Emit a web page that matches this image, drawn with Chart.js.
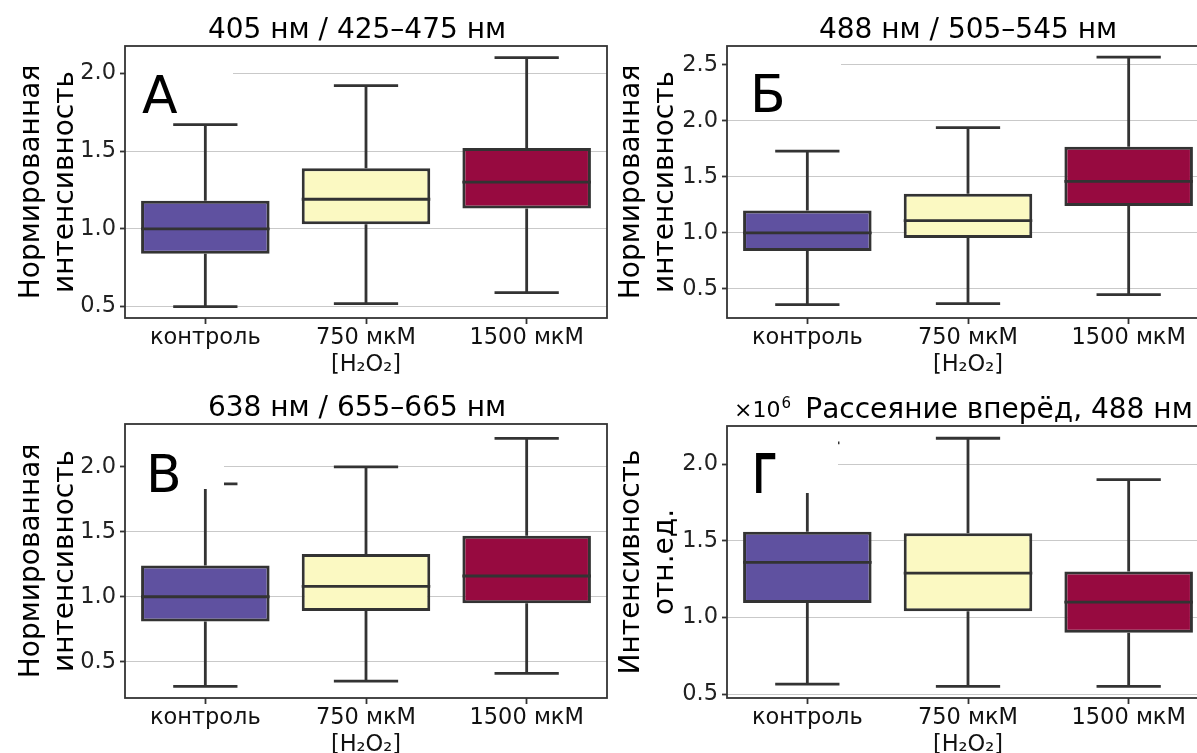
<!DOCTYPE html>
<html>
<head>
<meta charset="utf-8">
<script src="https://cdn.jsdelivr.net/npm/chart.js@4.4.1/dist/chart.umd.min.js"></script>
<style>
  html, body { margin: 0; padding: 0; width: 1197px; height: 753px; overflow: hidden; background: #fff; }
  canvas { position: absolute; }
</style>
</head>
<body>
<canvas id="chart-a" width="612" height="380" style="left:0;top:0"></canvas>
<canvas id="chart-b" width="614" height="380" style="left:600px;top:0"></canvas>
<canvas id="chart-v" width="612" height="375" style="left:0;top:378px"></canvas>
<canvas id="chart-g" width="614" height="375" style="left:600px;top:378px"></canvas>
<script>
const CATEGORIES = ['контроль', ['750 мкМ', '[H₂O₂]'], '1500 мкМ'];

// А: 405 нм / 425–475 нм
const A_LOW = [0.50, 0.52, 0.59];
const A_Q1 = [0.84, 1.03, 1.13];
const A_MEDIAN = [1.00, 1.19, 1.30];
const A_Q3 = [1.18, 1.39, 1.52];
const A_HIGH = [1.67, 1.92, 2.10];
const A_Y_RANGE = [0.427, 2.175];

// Б: 488 нм / 505–545 нм
const B_LOW = [0.36, 0.37, 0.45];
const B_Q1 = [0.84, 0.955, 1.24];
const B_MEDIAN = [1.00, 1.11, 1.46];
const B_Q3 = [1.20, 1.35, 1.77];
const B_HIGH = [1.73, 1.94, 2.57];
const B_Y_RANGE = [0.241, 2.669];

// В: 638 нм / 655–665 нм
const V_LOW = [0.31, 0.35, 0.41];
const V_Q1 = [0.81, 0.89, 0.95];
const V_MEDIAN = [1.00, 1.08, 1.16];
const V_Q3 = [1.24, 1.33, 1.47];
const V_HIGH = [1.87, 2.00, 2.22];
const V_Y_RANGE = [0.220, 2.331];

// Г: forward scatter, x10^6
const G_LOW = [0.565, 0.55, 0.55];
const G_Q1 = [1.095, 1.04, 0.90];
const G_MEDIAN = [1.36, 1.29, 1.10];
const G_Q3 = [1.56, 1.55, 1.30];
const G_HIGH = [2.14, 2.17, 1.90];
const G_Y_RANGE = [0.474, 2.25];

const FONT = 'DejaVu Sans';
const BOX_COLORS = ['#5f51a0', '#fbf9c2', '#970a40'];
const EDGE = '#333333';

/**
 * Whiskers, caps, medians, plus the panel frame, letter and title
 */
const boxPlotPlugin = {
  id: 'boxPlot',
  afterDatasetsDraw(chart, args, opts) {
    const { ctx } = chart;
    const x = chart.scales.x;
    const y = chart.scales.y;
    const bars = chart.getDatasetMeta(0).data;
    ctx.save();
    ctx.strokeStyle = EDGE;
    ctx.lineWidth = 2.8;
    bars.forEach((bar, i) => {
      const cx = x.getPixelForValue(i);
      const half = bar.width / 2;
      const cap = half / 2;
      const yLow = y.getPixelForValue(opts.low[i]);
      const yHigh = y.getPixelForValue(opts.high[i]);
      const yQ1 = y.getPixelForValue(opts.q1[i]);
      const yQ3 = y.getPixelForValue(opts.q3[i]);
      const yMed = y.getPixelForValue(opts.median[i]);
      ctx.beginPath();
      ctx.moveTo(cx, yQ3); ctx.lineTo(cx, yHigh);
      ctx.moveTo(cx, yQ1); ctx.lineTo(cx, yLow);
      ctx.moveTo(cx - cap, yHigh); ctx.lineTo(cx + cap, yHigh);
      ctx.moveTo(cx - cap, yLow); ctx.lineTo(cx + cap, yLow);
      ctx.moveTo(cx - half, yMed); ctx.lineTo(cx + half, yMed);
      ctx.stroke();
    });
    ctx.restore();
  },
  afterDraw(chart, args, opts) {
    const { ctx, chartArea: area } = chart;
    ctx.save();
    // white box behind the panel letter
    ctx.fillStyle = '#fff';
    ctx.fillRect(area.left + 1, area.top + 1, opts.mask[0], opts.mask[1]);
    ctx.fillStyle = '#000';
    ctx.textAlign = 'left';
    ctx.textBaseline = 'alphabetic';
    ctx.save();
    ctx.translate(area.left + opts.letterPos[0], area.top + opts.letterPos[1]);
    ctx.scale(opts.letterScale || 1, 1);
    ctx.font = '52px "' + FONT + '"';
    ctx.fillText(opts.letter, 0, 0);
    if (opts.letterStroke) {
      ctx.strokeStyle = '#000';
      ctx.lineWidth = opts.letterStroke;
      ctx.strokeText(opts.letter, 0, 0);
    }
    ctx.restore();
    // frame
    ctx.strokeStyle = EDGE;
    ctx.lineWidth = 1.8;
    ctx.strokeRect(area.left, area.top, area.right - area.left, area.bottom - area.top);
    // title
    ctx.font = '28px "' + FONT + '"';
    ctx.textAlign = 'center';
    ctx.fillText(opts.title, (area.left + area.right) / 2 + opts.titleDx, area.top - 8);
    if (opts.offsetText) {
      ctx.textAlign = 'left';
      ctx.font = '22px "' + FONT + '"';
      ctx.fillText('×10', area.left + 7, area.top - 9);
      const w = ctx.measureText('×10').width;
      ctx.font = '15px "' + FONT + '"';
      ctx.fillText('6', area.left + 8 + w, area.top - 18);
    }
    ctx.restore();
  },
};

function renderPanel(panel) {
  const context = document.getElementById(panel.id).getContext('2d');
  return new Chart(context, {
    type: 'bar',
    data: {
      labels: CATEGORIES,
      datasets: [
        {
          data: panel.q1.map((v, i) => [v, panel.q3[i]]),
          backgroundColor: BOX_COLORS,
          borderColor: EDGE,
          borderWidth: 3,
          borderSkipped: false,
          barPercentage: 0.8,
          categoryPercentage: 1.0,
        },
      ],
    },
    options: {
      responsive: false,
      animation: false,
      events: [],
      layout: { padding: { top: panel.padTop, right: panel.padRight, left: 0, bottom: 0 } },
      plugins: {
        legend: { display: false },
        tooltip: { enabled: false },
        boxPlot: {
          low: panel.low, q1: panel.q1, median: panel.median, q3: panel.q3, high: panel.high,
          title: panel.title, titleDx: panel.titleDx, letter: panel.letter, letterScale: panel.letterScale,
          letterStroke: panel.letterStroke, letterPos: panel.letterPos, mask: panel.mask, offsetText: panel.offsetText,
        },
      },
      scales: {
        x: {
          type: 'category',
          offset: true,
          border: { display: false },
          grid: { drawOnChartArea: false, offset: false, tickLength: 6, tickColor: EDGE, tickWidth: 1.8 },
          ticks: { font: { family: FONT, size: 22.5 }, color: '#111', padding: 1, maxRotation: 0, autoSkip: false },
          afterFit: (scale) => { scale.height = panel.xHeight; },
        },
        y: {
          type: 'linear',
          min: panel.range[0],
          max: panel.range[1],
          z: 1,
          border: { display: false },
          grid: { color: 'rgba(60,60,60,0.28)', lineWidth: 1, tickLength: 5, tickColor: EDGE, tickWidth: 1.8 },
          ticks: {
            stepSize: 0.5,
            includeBounds: false,
            padding: 4,
            color: '#222',
            font: { family: FONT, size: 22.5 },
            callback: (v) => v.toFixed(1),
          },
          title: {
            display: true,
            text: panel.yTitle,
            color: '#000',
            font: { family: FONT, size: 28 },
            padding: { top: 15, bottom: 0 },
          },
          afterFit: (scale) => { scale.width = panel.yWidth; },
        },
      },
    },
    plugins: [boxPlotPlugin],
  });
}

const NORM_TITLE = ['Нормированная', 'интенсивность'];

renderPanel({
  id: 'chart-a', title: '405 нм / 425–475 нм', titleDx: -9, letter: 'А', letterPos: [17, 67], mask: [107, 72],
  yTitle: NORM_TITLE, low: A_LOW, q1: A_Q1, median: A_MEDIAN, q3: A_Q3, high: A_HIGH, range: A_Y_RANGE,
  yWidth: 125, padTop: 46, padRight: 5, xHeight: 62,
});
renderPanel({
  id: 'chart-b', title: '488 нм / 505–545 нм', titleDx: 0, letter: 'Б', letterPos: [23, 66], mask: [113, 71],
  yTitle: NORM_TITLE, low: B_LOW, q1: B_Q1, median: B_MEDIAN, q3: B_Q3, high: B_HIGH, range: B_Y_RANGE,
  yWidth: 127, padTop: 46, padRight: 5, xHeight: 62,
});
renderPanel({
  id: 'chart-v', title: '638 нм / 655–665 нм', titleDx: -9, letter: 'В', letterPos: [21, 68], mask: [98, 64],
  yTitle: NORM_TITLE, low: V_LOW, q1: V_Q1, median: V_MEDIAN, q3: V_Q3, high: V_HIGH, range: V_Y_RANGE,
  yWidth: 125, padTop: 46, padRight: 5, xHeight: 55,
});
renderPanel({
  id: 'chart-g', title: 'Рассеяние вперёд, 488 нм', titleDx: 31, letter: 'Г', letterScale: 0.75, letterStroke: 2,
  letterPos: [26, 66], mask: [110, 66], offsetText: true,
  yTitle: ['Интенсивность', 'отн.ед.'], low: G_LOW, q1: G_Q1, median: G_MEDIAN, q3: G_Q3, high: G_HIGH, range: G_Y_RANGE,
  yWidth: 127, padTop: 48, padRight: 5, xHeight: 55,
});
</script>
</body>
</html>
